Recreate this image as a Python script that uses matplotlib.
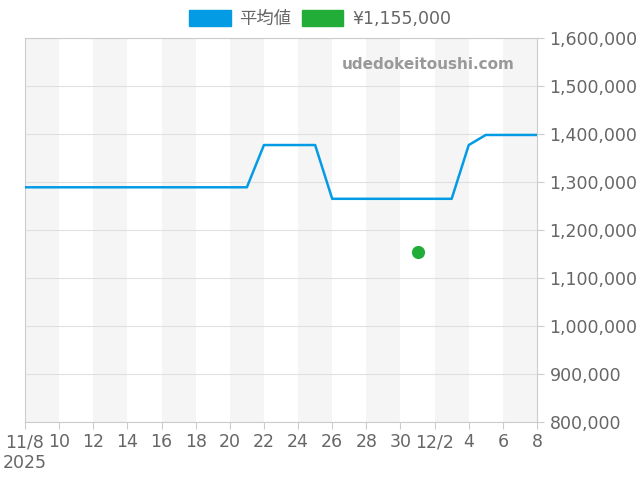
import numpy as np
import pandas as pd
import matplotlib
matplotlib.use("Agg")
import matplotlib.pyplot as plt
from matplotlib.patches import Patch

plt.rcParams['font.family'] = ['DejaVu Sans', 'Noto Sans CJK JP']

# daily average price, 11/8 .. 12/8
dates = pd.date_range("2025-11-08", "2025-12-08", freq="D")
avg_price = ([1289000] * 14            # 11/8 - 11/21
             + [1377000] * 4           # 11/22 - 11/25
             + [1265000] * 8           # 11/26 - 12/3
             + [1377000]               # 12/4
             + [1398000] * 4)          # 12/5 - 12/8
point_date = pd.Timestamp("2025-12-01")
point_price = 1155000

tick_dates = pd.date_range("2025-11-08", "2025-12-08", freq="2D")
tick_labels = ["11/8\n2025", "10", "12", "14", "16", "18", "20", "22", "24",
               "26", "28", "30", "12/2", "4", "6", "8"]

txt = "#666666"
blue = "#049be5"
green = "#22ad38"

fig = plt.figure(figsize=(6.4, 4.8), dpi=100)
ax = fig.add_axes([25 / 640, 1 - 422 / 480, 512 / 640, 384 / 480])

# alternating background bands
for start in pd.date_range("2025-11-08", "2025-12-06", freq="4D"):
    ax.axvspan(start, start + pd.Timedelta(days=2), color="#f5f5f5", lw=0, zorder=0)

ax.plot(dates, avg_price, color=blue, lw=1.8, zorder=3)
ax.scatter([point_date], [point_price], s=90, color=green, zorder=4, lw=0)

ax.set_xlim(dates[0], dates[-1])
ax.set_ylim(800000, 1600000)
ax.set_yticks(np.arange(800000, 1600001, 100000))
ax.yaxis.set_major_formatter(matplotlib.ticker.FuncFormatter(lambda v, p: f"{int(v):,}"))
ax.yaxis.tick_right()
ax.set_xticks(tick_dates)
ax.set_xticklabels(tick_labels)
ax.tick_params(axis="both", colors="#cccccc", labelcolor=txt, labelsize=12.5, length=5)
ax.tick_params(axis="y", pad=4)
ax.tick_params(axis="x", pad=3)
ax.grid(axis="y", color="#e0e0e0", lw=0.8, zorder=1)
ax.set_axisbelow(True)
for s in ax.spines.values():
    s.set_color("#cccccc")

ax.text(0.956, 0.93, "udedokeitoushi.com", transform=ax.transAxes, ha="right", va="center",
        fontsize=11, fontweight="bold", color="#999999", zorder=5)

handles = [Patch(color=blue, label="平均値"), Patch(color=green, label="¥1,155,000")]
leg = fig.legend(handles=handles, loc="center", bbox_to_anchor=(0.5, 1 - 19 / 480), ncol=2,
                 frameon=False, fontsize=12.5, handlelength=2.4, handleheight=1.0,
                 columnspacing=0.6, handletextpad=0.5)
for t in leg.get_texts():
    t.set_color(txt)

fig.savefig("out.png", dpi=100)
